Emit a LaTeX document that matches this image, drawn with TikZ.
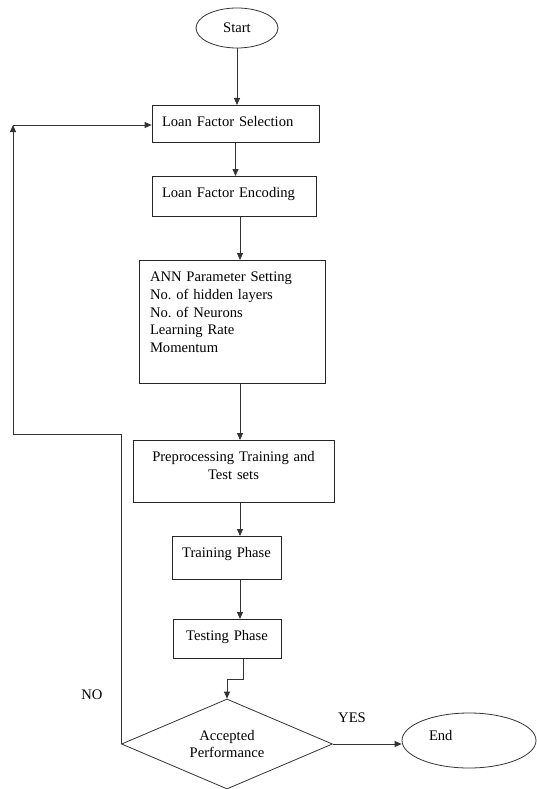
\documentclass[tikz,border=0pt]{standalone}
\usepackage{fontspec}
\setmainfont{Liberation Serif}
\usepackage{xcolor}
\usetikzlibrary{arrows.meta,shapes.geometric}
\frenchspacing
\tikzset{
  term/.style={draw=black!80, ellipse, inner sep=0pt},
  procbox/.style={draw=black!85, anchor=north, inner xsep=10pt, inner ysep=8pt,
                  text height=13pt},
  decis/.style={draw=black!80, diamond, aspect=2.3, inner sep=0pt, align=center,
                minimum width=211pt, minimum height=90pt},
  lbl/.style={inner sep=0pt},
  arr/.style={draw=black!80},
}

\begin{document}
\begin{tikzpicture}[x=1pt, y=-1pt, line width=0.8pt, font=\fontsize{14.6}{17.8}\selectfont,
    >={Triangle[length=7pt,width=6pt]}]
    \useasboundingbox (0,0) rectangle (536,789);
    \node[term, minimum width=82pt, minimum height=40pt] (start) at (237,28) {Start};
    \node[procbox, text width=147pt, align=left, text depth=8pt] (lfs) at (235.5,105) {Loan Factor Selection};
    \node[procbox, text width=144pt, align=left, text depth=11pt] (lfe) at (234,176) {Loan Factor Encoding};
    \node[procbox, inner xsep=11pt, text width=164pt, align=left, text depth=94pt] (ann) at (232,260)
      {ANN Parameter Setting\\No. of hidden layers\\No. of Neurons\\Learning Rate\\Momentum};
    \node[procbox, text width=181pt, align=center, text depth=33pt] (pre) at (233.5,440)
      {Preprocessing Training and\\Test sets};
    \node[procbox, inner xsep=5pt, text width=99pt, align=center, text depth=14pt] (train) at (226.5,536) {Training Phase};
    \node[procbox, inner xsep=5pt, text width=98pt, align=center, text depth=10pt] (test) at (227,619) {Testing Phase};
    \node[decis] (acc) at (227,744) {Accepted\\Performance};
    \node[term, minimum width=134pt, minimum height=55pt, text width=80pt, align=left, text depth=10pt] (end) at (469,740.5) {End};
    \node[lbl] (no) at (92,695) {NO};
    \node[lbl] (yes) at (352,718) {YES};
    \coordinate (fbturn) at (13,434);
    \coordinate (fbtop) at (13,125);
    % main flow
    \draw[arr, ->] (start.south) -- (start.south |- lfs.north);
    \draw[arr, ->] (lfs.south) -- (lfs.south |- lfe.north);
    \draw[arr, ->] ([xshift=6pt]lfe.south) -- ([xshift=6pt]lfe.south |- ann.north);
    \draw[arr, ->] ([xshift=8pt]ann.south) -- ([xshift=8pt]ann.south |- pre.north);
    \draw[arr, ->] ([xshift=6.5pt]pre.south) -- ([xshift=6.5pt]pre.south |- train.north);
    \draw[arr, ->] ([xshift=13.5pt]train.south) -- ([xshift=13.5pt]train.south |- test.north);
    \draw[arr, ->] ([xshift=16pt]test.south) -- ++(0,21) -| (acc.north);
    \draw[arr, ->] (acc.east) -- (acc.east -| end.west);
    % NO branch back to selection
    \draw[arr] (acc.west) |- (fbturn);
    \draw[arr, ->] (fbturn) -- (fbtop);
    \draw[arr, ->] (fbtop) -- (fbtop -| lfs.west);
\end{tikzpicture}
\end{document}
